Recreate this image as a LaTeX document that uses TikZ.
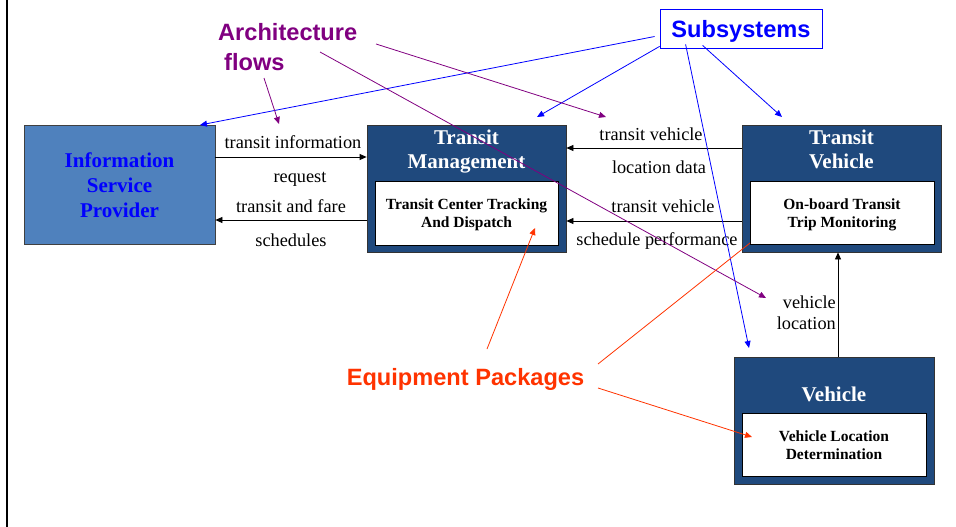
\documentclass[tikz,border=0pt]{standalone}
\usepackage{fontspec}
\setmainfont{Liberation Serif}
\newfontfamily\arialf{Liberation Sans}
\usetikzlibrary{arrows.meta}
\definecolor{ispblue}{HTML}{4F81BD}
\definecolor{darkbox}{HTML}{1F497D}
\definecolor{subblue}{HTML}{0000FF}
\definecolor{archpurple}{HTML}{800080}
\definecolor{eqorange}{HTML}{FF3300}
\tikzset{
  ispbox/.style={draw=black!75, fill=ispblue, line width=0.8pt, minimum width=191pt, minimum height=119pt, inner sep=0pt},
  isptext/.style={inner sep=0pt, text=subblue, align=center, font=\bfseries\fontsize{21}{25}\selectfont},
  outerbox/.style={draw=black!80, fill=darkbox, line width=0.8pt, inner sep=0pt},
  titletext/.style={text=white, align=center, font=\bfseries\fontsize{21}{24}\selectfont, inner sep=0pt},
  innerbox/.style={draw=black, fill=white, line width=0.8pt, inner sep=0pt},
  innertext/.style={inner sep=0pt, align=center, font=\bfseries\fontsize{15.5}{18}\selectfont},
  flowlabel/.style={inner sep=0pt, font=\rmfamily\fontsize{18.3}{21}\selectfont},
  flow/.style={-{Triangle[length=7pt,width=6pt]}, line width=0.8pt, black},
  annot/.style={inner sep=0pt, font=\arialf\bfseries\fontsize{23.6}{30}\selectfont},
  subarrow/.style={-{Triangle[length=7pt,width=6pt]}, line width=0.8pt, subblue},
  archarrow/.style={-{Triangle[length=7pt,width=6pt]}, line width=0.8pt, archpurple},
  eqarrow/.style={-{Triangle[length=7pt,width=6pt]}, line width=0.8pt, eqorange},
}
\begin{document}
\begin{tikzpicture}[x=1pt,y=-1pt]
\useasboundingbox (0,0) rectangle (956,527);
\coordinate (bordertop) at (6.5,0);
\coordinate (borderbot) at (6.5,527);
\draw[line width=2pt] (bordertop) -- (borderbot);

% Information Service Provider
\node[ispbox] (isp) at (119.5,184.5) {};
\node[isptext] (ispt) at (119.5,185.5) {Information\\Service\\Provider};

% Transit Management
\node[outerbox, minimum width=199pt, minimum height=127pt] (tm) at (466.5,188.5) {};
\node[titletext] (tmt) at (466.5,152) {Transit\\Management};
\node[innerbox, minimum width=183pt, minimum height=64pt] (tmi) at (466.5,213) {};
\node[innertext] (tmit) at (466.5,215) {Transit Center Tracking\\And Dispatch};

% Transit Vehicle
\node[outerbox, minimum width=199pt, minimum height=127pt] (tv) at (841.5,188.5) {};
\node[titletext] (tvt) at (841.5,149) {Transit\\Vehicle};
\node[innerbox, minimum width=184pt, minimum height=63pt] (tvi) at (842,212.5) {};
\node[innertext] (tvit) at (842,214.5) {On-board Transit\\Trip Monitoring};

% Vehicle
\node[outerbox, minimum width=200pt, minimum height=127pt] (veh) at (834,420.5) {};
\node[titletext] (veht) at (834,394) {Vehicle};
\node[innerbox, minimum width=184pt, minimum height=63pt] (vehi) at (834,444.5) {};
\node[innertext] (vehit) at (834,445.5) {Vehicle Location\\Determination};

% flows between subsystems
\draw[flow] ([yshift=27.5pt]isp.east) -- ([yshift=31.5pt]tm.west);
\draw[flow] ([yshift=-31.5pt]tm.west) -- ([yshift=-35.5pt]isp.east);
\draw[flow] ([yshift=40.5pt]tv.west) -- ([yshift=40.5pt]tm.east);
\draw[flow] ([yshift=-32.5pt]tv.west) -- ([yshift=-32.5pt]tm.east);
\draw[flow] ([xshift=4pt]veh.north) -- ([xshift=-3.5pt]tv.south);

\node[flowlabel] (l1) at (293,142) {transit information};
\node[flowlabel] (l2) at (300,179) {request};
\node[flowlabel] (l3) at (291,206) {transit and fare};
\node[flowlabel] (l4) at (291,240) {schedules};
\node[flowlabel] (l5) at (651,134) {transit vehicle};
\node[flowlabel] (l6) at (659,167) {location data};
\node[flowlabel] (l7) at (663,206) {transit vehicle};
\node[flowlabel] (l8) at (657,241) {schedule performance};
\node[flowlabel, align=right, anchor=east] (l9) at (836,312.5) {vehicle\\location};

% annotation labels
\node[annot, draw=subblue, line width=0.8pt, text=subblue, minimum width=162pt, minimum height=39pt, text height=18pt, text depth=0pt] (sub) at (741,28.5) {Subsystems};
\node[annot, text=archpurple, align=left, anchor=north west] (arch) at (218,23) {Architecture\\\hspace{6pt}flows};
\node[annot, text=eqorange] (eq) at (465.5,379) {Equipment Packages};

% Subsystems arrows
\coordinate (s1) at (200,125);
\coordinate (s2) at (537,117);
\coordinate (s3) at (749,348);
\coordinate (s4) at (782,117);
\draw[subarrow] ([xshift=-5pt,yshift=-8pt]sub.west) -- (s1);
\draw[subarrow] ([yshift=2pt]sub.south west) -- (s2);
\draw[subarrow] ([xshift=26pt,yshift=4pt]sub.south west) -- (s3);
\draw[subarrow] ([xshift=43pt,yshift=3pt]sub.south west) -- (s4);

% Architecture flow arrows
\coordinate (a1s) at (264,78);
\coordinate (a1) at (279,124);
\coordinate (a2s) at (376,44);
\coordinate (a2) at (606,117);
\coordinate (a3s) at (320,52);
\coordinate (a3) at (766,298);
\draw[archarrow] (a1s) -- (a1);
\draw[archarrow] (a2s) -- (a2);
\draw[archarrow] (a3s) -- (a3);

% Equipment package arrows
\coordinate (e1s) at (487,349);
\coordinate (e1) at (535,228);
\coordinate (e2s) at (598,364);
\coordinate (e2) at (750,243);
\coordinate (e3s) at (598,388);
\coordinate (e3) at (752,437);
\draw[eqarrow] (e1s) -- (e1);
\draw[line width=0.8pt, eqorange] (e2s) -- (e2);
\draw[eqarrow] (e3s) -- (e3);
\end{tikzpicture}
\end{document}
